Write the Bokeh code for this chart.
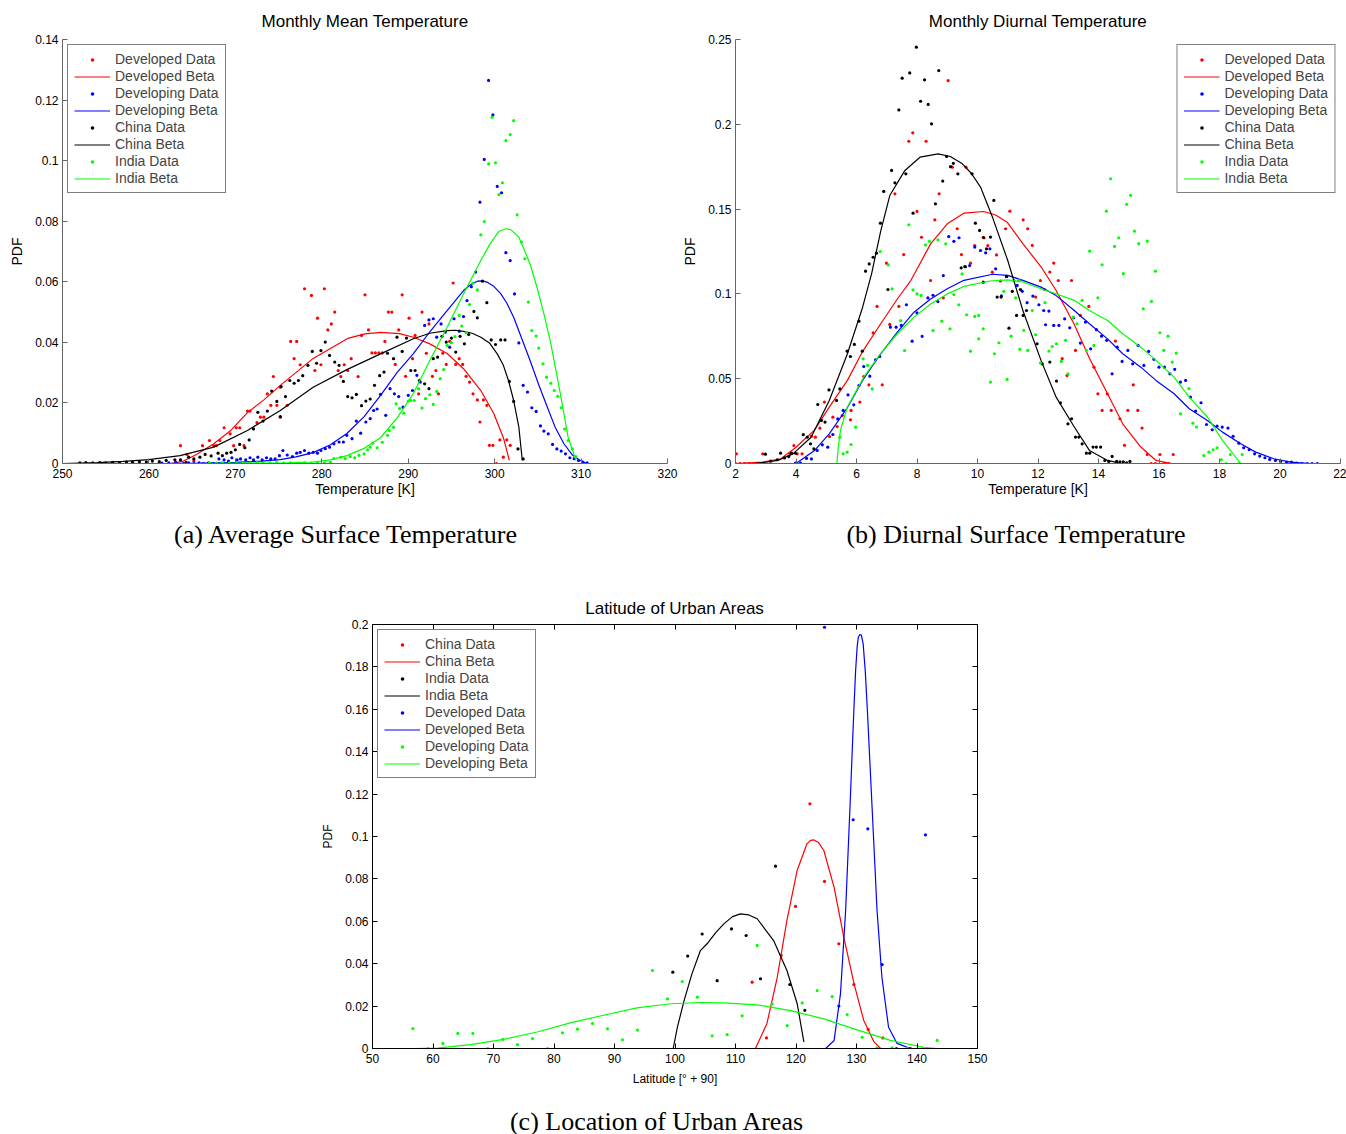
from bokeh.plotting import figure
from bokeh.layouts import column, row
from bokeh.models import Spacer, FixedTicker, LinearAxis, Range1d, CustomLabelingPolicy, Div
from bokeh.embed import file_html
from bokeh.resources import INLINE

FONT = "Liberation Sans"
SERIF = "Liberation Serif"
RED, BLUE, BLACK, GREEN = "#ff0000", "#0000ff", "#000000", "#00ff00"

# ---------------- Panel (a): Monthly Mean Temperature ----------------
a_xticks = [250, 260, 270, 280, 290, 300, 310, 320]
a_yticks = [0, 0.02, 0.04, 0.06, 0.08, 0.1, 0.12, 0.14]
a_ylabels = ["0", "0.02", "0.04", "0.06", "0.08", "0.1", "0.12", "0.14"]

a_dev_x = [263.1, 263.65, 264.4, 265.2, 266.2, 267.0, 267.5, 267.8, 268.2, 268.7, 269.4, 269.8, 270.1, 270.5, 271.0, 271.4, 271.7, 272.5, 272.9, 273.3, 273.7, 274.1, 274.4, 274.8, 275.2, 275.2, 276.0, 276.4, 276.8, 277.1, 277.5, 278.0, 278.8, 279.2, 279.5, 279.9, 280.3, 280.7, 281.1, 281.5, 281.9, 282.2, 282.6, 283.0, 283.4, 284.2, 284.6, 285.0, 285.4, 285.8, 286.2, 286.6, 287.0, 287.3, 287.7, 288.1, 288.5, 288.9, 289.3, 289.7, 290.1, 290.5, 290.8, 291.2, 291.6, 292.1, 292.4, 292.8, 293.2, 293.5, 294.0, 294.4, 294.8, 295.2, 295.5, 295.9, 296.3, 296.7, 297.1, 297.5, 298.0, 298.3, 298.7, 299.1, 299.4, 299.8, 300.2, 300.6, 301.0, 301.4, 301.8]
a_dev_y = [0.0005, 0.0059, 0.003, 0.0008, 0.0059, 0.0076, 0.0059, 0.0059, 0.0076, 0.0118, 0.0098, 0.0059, 0.0118, 0.0118, 0.0059, 0.0173, 0.0173, 0.0135, 0.0153, 0.0153, 0.0230, 0.0192, 0.0287, 0.0192, 0.0153, 0.0252, 0.0192, 0.0403, 0.0346, 0.0403, 0.0326, 0.0577, 0.0555, 0.0307, 0.0480, 0.0326, 0.0577, 0.0441, 0.0461, 0.0500, 0.0307, 0.0287, 0.0326, 0.0307, 0.0346, 0.0287, 0.0423, 0.0557, 0.0441, 0.0365, 0.0365, 0.0365, 0.0365, 0.0403, 0.0500, 0.0500, 0.0327, 0.0441, 0.0557, 0.0288, 0.0480, 0.0346, 0.0423, 0.0230, 0.0500, 0.0364, 0.0461, 0.0288, 0.0307, 0.0230, 0.0364, 0.0327, 0.0403, 0.0596, 0.0327, 0.0346, 0.0327, 0.0288, 0.0269, 0.0230, 0.0210, 0.0137, 0.0210, 0.0192, 0.0060, 0.0060, 0.0, 0.0078, 0.0021, 0.0078, 0.0060]

a_devbeta_x = [262.5, 264, 265.5, 267.5, 269.5, 271.4, 273.3, 275.2, 277, 279, 281, 283, 285, 286.8, 289, 290.6, 292.5, 294.5, 296.4, 298.4, 299.9, 301.0, 301.7]
a_devbeta_y = [0.0, 0.0008, 0.003, 0.0065, 0.011, 0.0168, 0.021, 0.0258, 0.030, 0.0347, 0.038, 0.0413, 0.0428, 0.0433, 0.0429, 0.0417, 0.0395, 0.0363, 0.0313, 0.0241, 0.0165, 0.0086, 0.001]

a_dvg_x = [261.5, 262.3, 263.1, 264.0, 264.6, 265.2, 265.8, 266.3, 266.9, 267.5, 268.1, 268.7, 269.2, 269.6, 270.2, 270.6, 271.2, 271.7, 272.1, 272.6, 273.1, 273.6, 274.1, 274.6, 275.1, 275.5, 276.0, 276.6, 277.1, 277.5, 278.0, 278.5, 279.0, 279.5, 279.9, 280.4, 280.9, 281.4, 282.0, 282.5, 282.9, 283.5, 284.0, 284.5, 285.1, 285.6, 286.0, 286.4, 286.8, 287.4, 287.9, 288.4, 288.9, 289.4, 290.0, 290.5, 291.0, 291.4, 291.9, 292.4, 292.9, 293.3, 293.8, 294.3, 294.8, 295.3, 295.9, 296.4, 296.8, 297.3, 297.8, 298.3, 298.8, 299.3, 299.8, 300.3, 300.8, 301.3, 301.8, 302.3, 302.8, 303.3, 303.8, 304.3, 304.8, 305.3, 305.7, 306.2, 306.7, 307.2, 307.7, 308.2, 308.7, 309.2, 309.7, 310.2, 310.7]
a_dvg_y = [0.0001, 0.0002, 0.0001, 0.0, 0.0002, 0.0, 0.0002, 0.0, 0.0002, 0.0, 0.0015, 0.0012, 0.0008, 0.0019, 0.0012, 0.0015, 0.0012, 0.0019, 0.0012, 0.0021, 0.0012, 0.0019, 0.0015, 0.0015, 0.0026, 0.0043, 0.0028, 0.0023, 0.0034, 0.0037, 0.0043, 0.0034, 0.0037, 0.0034, 0.0043, 0.0049, 0.0054, 0.0065, 0.0071, 0.0071, 0.0093, 0.0082, 0.0140, 0.0100, 0.0137, 0.0148, 0.0175, 0.0180, 0.0228, 0.0159, 0.0247, 0.0230, 0.0221, 0.0186, 0.0225, 0.0241, 0.0291, 0.0269, 0.0456, 0.0474, 0.0478, 0.0417, 0.0461, 0.0434, 0.0384, 0.0478, 0.0437, 0.0485, 0.0538, 0.0584, 0.0632, 0.0863, 0.1004, 0.1265, 0.1151, 0.0915, 0.0894, 0.0696, 0.0670, 0.0560, 0.0398, 0.0258, 0.0236, 0.0184, 0.0172, 0.0124, 0.0107, 0.0098, 0.0063, 0.0048, 0.0041, 0.0032, 0.0019, 0.0016, 0.0010, 0.0005, 0.0002]

a_dvgbeta_x = [261.5, 266, 270, 273, 275.2, 277, 279, 281, 282.9, 284.9, 286.8, 288.7, 290.6, 292.5, 294.5, 296.4, 297.2, 298.0, 298.6, 299.1, 299.9, 300.7, 301.4, 302.2, 303.1, 304.1, 305.1, 306.1, 307.0, 308.0, 309.0, 309.9, 310.7]
a_dvgbeta_y = [0.0, 0.0001, 0.0004, 0.0008, 0.0013, 0.0022, 0.0036, 0.0062, 0.0099, 0.0155, 0.0225, 0.0300, 0.0363, 0.0435, 0.0505, 0.0571, 0.0590, 0.0602, 0.0603, 0.0599, 0.0585, 0.0561, 0.0530, 0.0483, 0.0415, 0.0340, 0.0260, 0.0186, 0.0120, 0.0066, 0.0028, 0.001, 0.0]

a_chn_x = [252.0, 252.7, 253.5, 254.3, 255.0, 255.8, 256.6, 257.4, 258.1, 258.9, 259.7, 260.4, 261.2, 262.0, 263.0, 263.65, 264.3, 264.6, 265.2, 265.9, 266.5, 267.2, 268.0, 268.5, 269.0, 269.5, 270.0, 270.5, 271.1, 271.6, 272.1, 272.6, 273.2, 273.7, 274.2, 274.8, 275.2, 275.3, 275.8, 276.3, 276.8, 277.3, 277.8, 278.4, 278.9, 279.4, 279.9, 280.4, 280.9, 281.5, 282.0, 282.5, 283.0, 283.5, 284.0, 284.6, 285.1, 285.6, 286.1, 286.7, 287.2, 287.6, 288.3, 288.7, 289.3, 289.8, 290.3, 290.8, 291.3, 291.9, 292.4, 292.9, 293.4, 293.9, 294.4, 295.0, 295.5, 296.0, 296.5, 297.0, 297.6, 298.0, 298.6, 299.1, 299.6, 300.1, 300.7, 301.2, 301.7, 302.2, 302.7, 303.3]
a_chn_y = [0.0002, 0.0003, 0.0002, 0.0003, 0.0002, 0.0004, 0.0003, 0.0005, 0.0004, 0.0006, 0.0005, 0.0008, 0.0006, 0.001, 0.0012, 0.0012, 0.0004, 0.0021, 0.0015, 0.0021, 0.003, 0.0025, 0.0034, 0.0026, 0.0034, 0.0037, 0.0045, 0.0063, 0.0052, 0.0078, 0.0114, 0.0169, 0.0140, 0.0173, 0.0239, 0.0205, 0.0155, 0.0254, 0.0221, 0.0274, 0.0265, 0.0274, 0.0290, 0.0324, 0.0370, 0.0331, 0.0373, 0.0401, 0.0357, 0.0335, 0.0324, 0.0271, 0.0221, 0.0217, 0.0228, 0.0191, 0.0206, 0.0213, 0.0258, 0.0290, 0.0302, 0.0364, 0.0346, 0.0417, 0.0370, 0.0414, 0.0307, 0.0307, 0.0274, 0.0263, 0.0247, 0.0346, 0.0351, 0.0420, 0.0401, 0.0414, 0.0368, 0.0420, 0.0395, 0.0426, 0.0502, 0.0481, 0.0602, 0.0531, 0.0408, 0.0393, 0.0408, 0.0408, 0.0271, 0.0205, 0.0048, 0.0015]

a_chnbeta_x = [250, 254, 257, 260, 263.6, 267.5, 271.4, 275.2, 279.0, 282.9, 286.8, 290.6, 292.5, 294.5, 295.5, 296.4, 297.4, 298.4, 299.4, 300.3, 301.0, 301.6, 302.2, 302.8, 303.2]
a_chnbeta_y = [0.0, 0.0003, 0.0007, 0.0013, 0.0026, 0.0054, 0.0109, 0.0175, 0.0252, 0.0310, 0.0362, 0.0412, 0.0430, 0.0439, 0.0440, 0.0436, 0.0430, 0.0417, 0.0398, 0.0362, 0.0325, 0.0274, 0.0208, 0.012, 0.001]

a_ind_x = [267.0, 267.8, 268.5, 269.3, 270.1, 270.9, 271.7, 272.5, 273.2, 274.0, 274.8, 275.6, 276.4, 277.2, 278.0, 278.8, 279.5, 280.3, 281.0, 281.4, 282.2, 282.7, 283.3, 283.8, 284.3, 284.9, 285.3, 285.6, 285.9, 286.4, 287.0, 287.6, 287.8, 288.3, 288.6, 289.0, 289.5, 290.0, 290.3, 290.7, 291.2, 291.6, 292.0, 292.5, 292.9, 293.3, 293.7, 294.1, 294.5, 295.0, 295.4, 295.9, 296.2, 296.7, 297.1, 297.5, 298.0, 298.4, 298.8, 299.3, 299.7, 300.1, 300.5, 300.9, 301.3, 301.8, 302.2, 302.6, 303.1, 303.5, 303.9, 304.3, 304.8, 305.1, 305.6, 306.0, 306.5, 306.9, 307.3, 307.7, 308.1, 308.5, 309.0, 309.4]
a_ind_y = [0.0002, 0.0001, 0.0003, 0.0001, 0.0002, 0.0001, 0.0002, 0.0003, 0.0001, 0.0002, 0.0003, 0.0001, 0.0002, 0.0001, 0.0002, 0.0001, 0.0003, 0.0001, 0.0004, 0.0016, 0.0021, 0.0016, 0.0023, 0.0019, 0.0027, 0.0032, 0.0045, 0.0054, 0.0067, 0.0052, 0.0070, 0.0093, 0.0109, 0.0120, 0.0197, 0.0181, 0.0166, 0.0206, 0.0208, 0.0208, 0.0247, 0.0183, 0.0214, 0.0227, 0.0195, 0.0238, 0.0280, 0.0310, 0.0390, 0.0399, 0.0419, 0.0489, 0.0454, 0.0432, 0.0525, 0.0595, 0.0573, 0.0755, 0.0799, 0.0989, 0.1143, 0.0993, 0.0888, 0.0927, 0.1066, 0.1086, 0.1132, 0.0821, 0.0731, 0.0676, 0.0533, 0.0439, 0.0421, 0.0381, 0.0329, 0.0285, 0.0265, 0.0241, 0.0222, 0.0184, 0.0114, 0.0076, 0.0048, 0.0023]

a_indbeta_x = [266.7, 272, 276, 279, 281, 282.9, 284.9, 286.8, 288.7, 290.6, 292.5, 294.5, 296.4, 298.4, 299.4, 300.5, 301.3, 301.8, 302.2, 302.8, 303.3, 304.1, 304.9, 305.7, 306.5, 307.6, 308.5, 309.4]
a_indbeta_y = [0.0, 0.0001, 0.0002, 0.0005, 0.0012, 0.0026, 0.0050, 0.0085, 0.0150, 0.0231, 0.0340, 0.0450, 0.0560, 0.0670, 0.0722, 0.0767, 0.0775, 0.0773, 0.0764, 0.0747, 0.0714, 0.0659, 0.0582, 0.0494, 0.0396, 0.0231, 0.0087, 0.001]

# ---------------- Panel (b): Monthly Diurnal Temperature ----------------
b_xticks = [2, 4, 6, 8, 10, 12, 14, 16, 18, 20, 22]
b_yticks = [0, 0.05, 0.1, 0.15, 0.2, 0.25]
b_ylabels = ["0", "0.05", "0.1", "0.15", "0.2", "0.25"]

b_dev_x = [2.0, 2.15, 2.3, 2.45, 2.6, 2.75, 2.03, 2.9, 3.8, 3.93, 4.04, 4.2, 4.51, 4.64, 4.79, 4.94, 5.11, 5.22, 5.36, 5.53, 5.8, 5.82, 6.11, 6.24, 6.41, 6.55, 6.68, 6.85, 6.99, 7.1, 7.27, 7.4, 7.56, 7.73, 7.86, 8.0, 8.15, 8.3, 8.45, 8.59, 8.73, 8.87, 9.03, 9.17, 9.33, 9.47, 9.62, 9.77, 9.91, 10.19, 10.34, 10.49, 10.63, 10.76, 10.93, 11.07, 11.2, 11.37, 11.51, 11.66, 11.81, 11.92, 12.08, 12.22, 12.39, 12.52, 12.67, 12.8, 12.96, 13.11, 13.24, 13.4, 13.68, 13.85, 13.98, 14.12, 14.29, 14.42, 14.56, 14.71, 14.86, 14.97, 15.15, 15.3, 15.44, 15.61, 15.74, 15.88, 16.03, 16.16, 16.33, 16.47]
b_dev_y = [0.0, 0.0, 0.0, 0.0, 0.0, 0.0, 0.0057, 0.0057, 0.0057, 0.0106, 0.0057, 0.0057, 0.0161, 0.0155, 0.0208, 0.0362, 0.0159, 0.0273, 0.0218, 0.0283, 0.0258, 0.0313, 0.0362, 0.0513, 0.0464, 0.0770, 0.0926, 0.0464, 0.1181, 0.0820, 0.159, 0.0926, 0.1232, 0.19, 0.195, 0.1486, 0.1334, 0.19, 0.1079, 0.1437, 0.159, 0.0977, 0.2258, 0.1747, 0.1384, 0.1232, 0.1747, 0.1181, 0.1285, 0.1334, 0.1285, 0.1128, 0.123, 0.1076, 0.1384, 0.1488, 0.1079, 0.1079, 0.1437, 0.1384, 0.1286, 0.0981, 0.1079, 0.1026, 0.1129, 0.1182, 0.1079, 0.0618, 0.0519, 0.1079, 0.0667, 0.0873, 0.0926, 0.0568, 0.0411, 0.0313, 0.0411, 0.0313, 0.0722, 0.0264, 0.0107, 0.0313, 0.0464, 0.0313, 0.0209, 0.0053, 0.0, 0.0, 0.0053, 0.0, 0.0, 0.0053]

b_devbeta_x = [2.0, 2.9, 3.5, 4.0, 4.6, 5.1, 5.7, 6.2, 6.8, 7.35, 7.8, 8.45, 9.0, 9.55, 10.2, 10.6, 10.98, 11.5, 12.1, 12.6, 13.2, 13.7, 14.3, 14.8, 15.4, 15.9, 16.4]
b_devbeta_y = [0.0, 0.0008, 0.0028, 0.0096, 0.0195, 0.0332, 0.049, 0.066, 0.0824, 0.097, 0.108, 0.1295, 0.1413, 0.1476, 0.1486, 0.1465, 0.1423, 0.1296, 0.116, 0.102, 0.082, 0.062, 0.0411, 0.0234, 0.0097, 0.0018, 0.0]

b_dvg_x = [3.98, 4.15, 4.35, 4.51, 4.7, 4.87, 5.05, 5.22, 5.38, 5.56, 5.72, 5.91, 6.08, 6.24, 6.44, 6.63, 6.77, 7.12, 7.31, 7.48, 7.65, 7.84, 8.0, 8.17, 8.36, 8.53, 8.69, 8.87, 9.05, 9.22, 9.39, 9.58, 9.74, 9.91, 10.1, 10.27, 10.41, 10.6, 10.79, 10.96, 11.31, 11.48, 11.64, 11.83, 12.03, 12.19, 12.25, 12.36, 12.52, 12.69, 12.88, 13.05, 13.18, 13.4, 13.57, 13.74, 13.93, 14.1, 14.27, 14.45, 14.62, 14.78, 14.97, 15.13, 15.31, 15.5, 15.66, 15.83, 16.0, 16.18, 16.36, 16.52, 16.71, 16.88, 17.04, 17.21, 17.39, 17.57, 17.76, 17.92, 18.09, 18.28, 18.45, 18.64, 18.8, 18.98, 19.16, 19.33, 19.5, 19.66, 19.85, 20.02, 20.22, 20.38, 20.55, 20.73, 20.9, 21.06, 21.23]
b_dvg_y = [0.0002, 0.0002, 0.003, 0.0027, 0.0077, 0.011, 0.0096, 0.0171, 0.0263, 0.0313, 0.0405, 0.0346, 0.046, 0.0572, 0.0515, 0.0611, 0.0631, 0.0804, 0.0804, 0.0814, 0.0936, 0.0721, 0.0888, 0.075, 0.0976, 0.0992, 0.0955, 0.1108, 0.1338, 0.131, 0.1331, 0.1161, 0.1167, 0.1276, 0.1256, 0.1242, 0.1266, 0.1148, 0.0988, 0.1103, 0.105, 0.1015, 0.0948, 0.0987, 0.0936, 0.0902, 0.0818, 0.0899, 0.0814, 0.0814, 0.0853, 0.08, 0.0859, 0.071, 0.0834, 0.0676, 0.0789, 0.0751, 0.0726, 0.0529, 0.0686, 0.0602, 0.0667, 0.0588, 0.0696, 0.0578, 0.0661, 0.0614, 0.0568, 0.0568, 0.0529, 0.0555, 0.048, 0.049, 0.0391, 0.0309, 0.0358, 0.023, 0.0199, 0.0221, 0.0215, 0.0209, 0.016, 0.012, 0.0093, 0.0081, 0.0057, 0.0044, 0.0034, 0.0024, 0.0018, 0.0012, 0.0008, 0.0008, 0.0002, 0.0, 0.0, 0.0, 0.0]

b_dvgbeta_x = [4.0, 4.6, 5.1, 5.7, 6.2, 6.8, 7.35, 7.9, 8.45, 9.0, 9.55, 10.5, 11.0, 11.5, 12.1, 12.6, 13.2, 13.7, 14.3, 14.8, 15.4, 15.9, 16.5, 17.0, 17.6, 18.1, 18.7, 19.2, 19.8, 20.35, 21.0]
b_dvgbeta_y = [0.0, 0.0075, 0.0175, 0.033, 0.049, 0.0647, 0.0774, 0.0892, 0.097, 0.103, 0.108, 0.1116, 0.1109, 0.108, 0.104, 0.099, 0.0902, 0.0824, 0.0735, 0.0647, 0.0568, 0.049, 0.0411, 0.0323, 0.0254, 0.0185, 0.0116, 0.0067, 0.0028, 0.0008, 0.0]

b_chn_x = [2.99, 3.16, 3.38, 3.49, 3.62, 3.76, 3.85, 3.98, 4.24, 4.37, 4.48, 4.59, 4.72, 4.84, 4.96, 5.09, 5.34, 5.45, 5.69, 5.8, 5.93, 6.08, 6.19, 6.3, 6.42, 6.55, 6.66, 6.79, 6.9, 7.04, 7.16, 7.27, 7.4, 7.51, 7.63, 7.76, 7.87, 7.98, 8.12, 8.25, 8.37, 8.48, 8.61, 8.72, 8.85, 8.98, 9.11, 9.2, 9.35, 9.46, 9.6, 9.82, 9.93, 10.07, 10.19, 10.21, 10.3, 10.43, 10.54, 10.65, 10.78, 10.96, 11.04, 11.15, 11.29, 11.42, 11.51, 11.62, 11.97, 12.14, 12.39, 12.61, 12.74, 12.99, 13.11, 13.24, 13.35, 13.46, 13.6, 13.71, 13.82, 13.93, 14.07, 14.21, 14.34, 14.45, 14.6, 14.71, 14.82, 14.93, 15.04]
b_chn_y = [0.0055, 0.0014, 0.0022, 0.0061, 0.0033, 0.0041, 0.0061, 0.0061, 0.017, 0.0155, 0.0116, 0.0086, 0.0348, 0.0254, 0.0244, 0.0434, 0.0372, 0.044, 0.0662, 0.0631, 0.0702, 0.0839, 0.0662, 0.1134, 0.1177, 0.1216, 0.124, 0.1417, 0.1604, 0.1026, 0.1728, 0.1655, 0.2085, 0.2272, 0.1708, 0.2303, 0.1476, 0.2455, 0.2136, 0.2262, 0.2117, 0.2003, 0.1531, 0.2317, 0.1665, 0.181, 0.175, 0.177, 0.1708, 0.1154, 0.116, 0.1708, 0.1417, 0.1374, 0.1069, 0.1331, 0.1266, 0.1335, 0.1551, 0.0981, 0.0981, 0.1103, 0.0798, 0.1015, 0.0873, 0.1026, 0.0873, 0.0902, 0.0706, 0.0588, 0.0598, 0.0486, 0.0358, 0.0234, 0.0264, 0.0156, 0.0156, 0.0116, 0.0061, 0.0061, 0.0097, 0.0097, 0.0097, 0.0018, 0.0012, 0.0042, 0.0012, 0.001, 0.001, 0.0004, 0.0012]

b_chnbeta_x = [2.6, 3.0, 3.4, 3.9, 4.5, 5.1, 5.7, 6.2, 6.5, 6.8, 7.1, 7.6, 8.1, 8.7, 9.1, 9.5, 9.8, 10.1, 10.5, 11.0, 11.5, 12.1, 12.6, 13.2, 13.7, 14.3, 14.7]
b_chnbeta_y = [0.0, 0.0008, 0.0018, 0.0057, 0.0155, 0.0372, 0.0647, 0.092, 0.112, 0.137, 0.158, 0.1728, 0.1806, 0.1826, 0.181, 0.1767, 0.171, 0.163, 0.145, 0.1197, 0.0902, 0.0608, 0.0391, 0.0215, 0.0077, 0.0018, 0.0002]

b_ind_x = [5.45, 5.56, 5.69, 5.82, 5.97, 6.22, 6.37, 6.52, 6.78, 7.05, 7.18, 7.46, 7.59, 7.73, 7.87, 8.0, 8.14, 8.28, 8.41, 8.53, 8.69, 8.82, 8.95, 9.09, 9.22, 9.38, 9.49, 9.64, 9.77, 9.91, 10.04, 10.04, 10.19, 10.43, 10.56, 10.71, 10.87, 10.98, 11.11, 11.26, 11.37, 11.4, 11.53, 11.66, 11.81, 11.92, 12.08, 12.23, 12.36, 12.47, 12.61, 12.77, 12.91, 12.99, 13.16, 13.29, 13.46, 13.6, 13.71, 13.85, 13.98, 14.12, 14.26, 14.4, 14.53, 14.67, 14.82, 14.93, 15.06, 15.19, 15.33, 15.48, 15.61, 15.75, 15.88, 16.03, 16.16, 16.3, 16.44, 16.57, 16.71, 16.99, 17.12, 17.24, 17.48, 17.65, 17.79, 17.92, 18.06, 18.22, 18.36, 18.64, 18.75]
b_ind_y = [0.0155, 0.0057, 0.0067, 0.0112, 0.0214, 0.0617, 0.0578, 0.044, 0.125, 0.1171, 0.103, 0.0843, 0.0666, 0.1407, 0.1024, 0.1, 0.0991, 0.1289, 0.131, 0.0784, 0.1319, 0.0839, 0.1295, 0.0794, 0.0996, 0.0936, 0.1118, 0.0877, 0.0662, 0.0867, 0.0873, 0.0735, 0.0794, 0.048, 0.0647, 0.0712, 0.1015, 0.0496, 0.0751, 0.0977, 0.1079, 0.0673, 0.0785, 0.0667, 0.0902, 0.0759, 0.0592, 0.0948, 0.0663, 0.069, 0.0706, 0.0602, 0.0726, 0.0529, 0.0863, 0.0824, 0.0962, 0.0667, 0.1252, 0.0696, 0.0977, 0.1172, 0.1488, 0.1679, 0.128, 0.1331, 0.1119, 0.1528, 0.1581, 0.137, 0.1296, 0.0912, 0.1311, 0.0956, 0.1134, 0.0771, 0.0667, 0.0751, 0.0598, 0.0651, 0.0293, 0.0441, 0.0238, 0.0215, 0.0047, 0.0067, 0.0081, 0.0093, 0.0022, 0.0, 0.0053, 0.0, 0.0053]

b_indbeta_x = [5.35, 5.4, 5.47, 5.69, 6.24, 6.79, 7.35, 7.9, 8.45, 9.0, 9.55, 10.4, 11.0, 11.5, 12.1, 12.6, 13.2, 13.7, 14.3, 14.8, 15.4, 15.9, 16.5, 17.0, 17.6, 18.1, 18.7]
b_indbeta_y = [0.0, 0.01, 0.0195, 0.033, 0.0509, 0.0647, 0.0765, 0.0863, 0.0941, 0.1, 0.1044, 0.1076, 0.1083, 0.107, 0.103, 0.1001, 0.0962, 0.0902, 0.0843, 0.0765, 0.0686, 0.0608, 0.0509, 0.0391, 0.0274, 0.0136, 0.0]

# ---------------- Panel (c): Latitude of Urban Areas ----------------
c_xticks = [50, 60, 70, 80, 90, 100, 110, 120, 130, 140, 150]
c_yticks = [0, 0.02, 0.04, 0.06, 0.08, 0.1, 0.12, 0.14, 0.16, 0.18, 0.2]
c_ylabels = ["0", "0.02", "0.04", "0.06", "0.08", "0.1", "0.12", "0.14", "0.16", "0.18", "0.2"]

c_chn_x = [112.75, 115.12, 117.55, 119.92, 122.3, 124.71, 127.08, 129.56, 131.93, 133.4, 134.35]
c_chn_y = [0.0313, 0.005, 0.0439, 0.0670, 0.1154, 0.0788, 0.0494, 0.0302, 0.009, 0.0, 0.005]
c_chnbeta_x = [113.3, 115.2, 116.9, 118.5, 120.2, 121.8, 122.4, 123.0, 123.7, 124.6, 126.3, 127.9, 129.6, 131.2, 132.9, 134.0]
c_chnbeta_y = [0.0, 0.0118, 0.0336, 0.0604, 0.0841, 0.0965, 0.0982, 0.0984, 0.0972, 0.0934, 0.076, 0.0525, 0.0305, 0.0132, 0.0031, 0.0]

c_ind_x = [99.64, 102.1, 104.49, 106.97, 109.34, 111.76, 114.13, 116.61, 118.98, 121.46]
c_ind_y = [0.036, 0.0436, 0.054, 0.032, 0.0564, 0.0533, 0.0329, 0.086, 0.0302, 0.018]
c_indbeta_x = [99.7, 100.4, 101.5, 102.8, 104.2, 105.3, 106.7, 108.07, 109.5, 110.8, 112.2, 113.58, 116.3, 118.5, 120.2, 121.3]
c_indbeta_y = [0.0, 0.0101, 0.0226, 0.0352, 0.0462, 0.0494, 0.0545, 0.0588, 0.0622, 0.0635, 0.063, 0.0612, 0.0509, 0.0368, 0.0211, 0.0031]

c_dev_x = [124.71, 127.08, 129.45, 131.87, 134.24, 136.6, 138.9, 141.4]
c_dev_y = [0.1987, 0.0200, 0.1079, 0.1036, 0.0396, 0.0, 0.0, 0.1008]
c_devbeta_x = [124.9, 126.3, 127.35, 128.2, 128.9, 129.56, 129.85, 130.1, 130.3, 130.55, 130.8, 131.1, 131.45, 131.8, 132.6, 133.4, 134.2, 135.3, 136.7, 138.9]
c_devbeta_y = [0.0, 0.0038, 0.0258, 0.065, 0.1123, 0.1594, 0.178, 0.1893, 0.194, 0.1953, 0.195, 0.1909, 0.178, 0.1594, 0.1123, 0.065, 0.0336, 0.01, 0.0024, 0.0]

c_dvg_x = [56.67, 59.15, 61.63, 64.1, 66.58, 69.06, 71.54, 73.97, 76.45, 78.93, 81.4, 83.88, 86.36, 88.84, 91.32, 93.8, 96.28, 98.76, 101.2, 103.7, 106.14, 108.62, 111.1, 113.58, 116.06, 118.54, 121.02, 123.5, 125.98, 128.46, 130.93, 133.41, 135.89, 138.37, 140.85, 143.33]
c_dvg_y = [0.0094, 0.0, 0.0024, 0.0071, 0.0071, 0.0, 0.0043, 0.0018, 0.0047, 0.0, 0.0074, 0.0091, 0.0118, 0.0093, 0.0041, 0.0087, 0.0368, 0.0234, 0.0316, 0.0242, 0.0060, 0.0065, 0.0154, 0.0486, 0.021, 0.0108, 0.0215, 0.0273, 0.0245, 0.016, 0.0053, 0.0003, 0.0003, 0.0, 0.0, 0.0038]
c_dvgbeta_x = [56.67, 60.7, 66.2, 71.7, 77.2, 82.7, 88.2, 93.7, 99.3, 104.2, 108.07, 113.58, 119.09, 124.6, 130.1, 135.6, 141.1, 143.3]
c_dvgbeta_y = [0.0, 0.0002, 0.0018, 0.0043, 0.0078, 0.0121, 0.0157, 0.0192, 0.0211, 0.0217, 0.0215, 0.0206, 0.0179, 0.014, 0.0088, 0.0038, 0.0006, 0.0]


FRAME_W, FRAME_H = 605, 424
NO_LABELS = CustomLabelingPolicy(code="return new Set()")


def make_panel(title, xr, yr, xticks, yticks, ylabels, xlabel,
               bl, br, bt, bb, boxed, lab_size, title_standoff, xlab_standoff):
    p = figure(frame_width=FRAME_W, frame_height=FRAME_H,
               x_range=Range1d(*xr), y_range=Range1d(*yr),
               output_backend="svg", toolbar_location=None,
               min_border_left=bl, min_border_right=br, min_border_top=bt, min_border_bottom=bb)
    p.title.text = title
    p.title.align = "center"
    p.title.text_font = FONT
    p.title.text_font_size = "17px"
    p.title.text_font_style = "normal"
    p.title.text_color = "black"
    p.title.standoff = title_standoff
    p.xgrid.visible = False
    p.ygrid.visible = False
    axcol = "black" if boxed else "#666666"
    p.outline_line_color = "black" if boxed else None
    p.xaxis.ticker = FixedTicker(ticks=xticks)
    p.yaxis.ticker = FixedTicker(ticks=yticks)
    p.yaxis.major_label_overrides = {v: s for v, s in zip(yticks, ylabels)}
    for ax in (p.xaxis[0], p.yaxis[0]):
        ax.axis_line_color = axcol
        ax.major_tick_line_color = axcol
        ax.major_tick_in = 5
        ax.major_tick_out = 0
        ax.minor_tick_line_color = None
        ax.major_label_text_font = FONT
        ax.major_label_text_font_size = "12px"
        ax.major_label_text_color = "black"
        ax.axis_label_text_font = FONT
        ax.axis_label_text_font_size = lab_size
        ax.axis_label_text_font_style = "normal"
        ax.axis_label_text_color = "black"
    p.xaxis.major_label_standoff = 5
    p.yaxis.major_label_standoff = 4
    p.xaxis.axis_label = xlabel
    p.xaxis.axis_label_standoff = xlab_standoff
    p.yaxis.axis_label = "PDF"
    p.yaxis.axis_label_standoff = 7
    if boxed:
        top = LinearAxis(ticker=FixedTicker(ticks=xticks), major_label_policy=NO_LABELS,
                         major_label_text_font_size="1px",
                         major_label_standoff=0, major_tick_in=5, major_tick_out=0,
                         minor_tick_line_color=None, axis_line_color="black")
        right = LinearAxis(ticker=FixedTicker(ticks=yticks), major_label_policy=NO_LABELS,
                           major_label_text_font_size="1px",
                           major_label_standoff=0, major_tick_in=5, major_tick_out=0,
                           minor_tick_line_color=None, axis_line_color="black")
        p.add_layout(top, "above")
        p.add_layout(right, "right")
    return p


def caption_div(text, width, height, center_x, top):
    # caption text centred at center_x (px from the div's left edge), text box starting at top
    box_w = 440
    html = ('<div style="font-family:\'Liberation Serif\',serif;font-size:26px;line-height:26px;'
            'color:#000;white-space:nowrap;text-align:center;'
            f'width:{box_w}px;margin-left:{center_x - box_w / 2:.1f}px;margin-top:{top}px">{text}</div>')
    return Div(text=html, width=width, height=height, margin=(0, 0, 0, 0))


def add_series(p, series):
    for kind, x, y, color, label in series:
        if kind == "dot":
            p.scatter(x, y, size=3.2, color=color, line_color=None, legend_label=label)
        else:
            p.line(x, y, line_color=color, line_width=1.2, legend_label=label)


def style_legend(p, loc):
    lg = p.legend[0]
    lg.location = loc
    lg.border_line_color = "black"
    lg.border_line_width = 1
    lg.background_fill_color = "white"
    lg.background_fill_alpha = 1
    lg.label_text_font = FONT
    lg.label_text_font_size = "14px"
    lg.glyph_width = 36
    lg.glyph_height = 9
    lg.label_height = 15
    lg.spacing = 1
    lg.padding = 6
    lg.margin = 5
    lg.label_standoff = 5


pa = make_panel("Monthly Mean Temperature", (250, 320), (0, 0.14),
                a_xticks, a_yticks, a_ylabels, "Temperature [K]",
                62, 11, 39, 50, False, "14px", 17, 0)
add_series(pa, [
    ("dot", a_dev_x, a_dev_y, RED, "Developed Data"),
    ("line", a_devbeta_x, a_devbeta_y, RED, "Developed Beta"),
    ("dot", a_dvg_x, a_dvg_y, BLUE, "Developing Data"),
    ("line", a_dvgbeta_x, a_dvgbeta_y, BLUE, "Developing Beta"),
    ("dot", a_chn_x, a_chn_y, BLACK, "China Data"),
    ("line", a_chnbeta_x, a_chnbeta_y, BLACK, "China Beta"),
    ("dot", a_ind_x, a_ind_y, GREEN, "India Data"),
    ("line", a_indbeta_x, a_indbeta_y, GREEN, "India Beta"),
])
style_legend(pa, "top_left")

pb = make_panel("Monthly Diurnal Temperature", (2, 22), (0, 0.25),
                b_xticks, b_yticks, b_ylabels, "Temperature [K]",
                57, 6, 39, 50, False, "14px", 17, 0)
add_series(pb, [
    ("dot", b_dev_x, b_dev_y, RED, "Developed Data"),
    ("line", b_devbeta_x, b_devbeta_y, RED, "Developed Beta"),
    ("dot", b_dvg_x, b_dvg_y, BLUE, "Developing Data"),
    ("line", b_dvgbeta_x, b_dvgbeta_y, BLUE, "Developing Beta"),
    ("dot", b_chn_x, b_chn_y, BLACK, "China Data"),
    ("line", b_chnbeta_x, b_chnbeta_y, BLACK, "China Beta"),
    ("dot", b_ind_x, b_ind_y, GREEN, "India Data"),
    ("line", b_indbeta_x, b_indbeta_y, GREEN, "India Beta"),
])
style_legend(pb, "top_right")

pc = make_panel("Latitude of Urban Areas", (50, 150), (0, 0.2),
                c_xticks, c_yticks, c_ylabels, "Latitude [° + 90]",
                56, 20, 34, 42, True, "12px", 6, 6)
add_series(pc, [
    ("dot", c_chn_x, c_chn_y, RED, "China Data"),
    ("line", c_chnbeta_x, c_chnbeta_y, RED, "China Beta"),
    ("dot", c_ind_x, c_ind_y, BLACK, "India Data"),
    ("line", c_indbeta_x, c_indbeta_y, BLACK, "India Beta"),
    ("dot", c_dev_x, c_dev_y, BLUE, "Developed Data"),
    ("line", c_devbeta_x, c_devbeta_y, BLUE, "Developed Beta"),
    ("dot", c_dvg_x, c_dvg_y, GREEN, "Developing Data"),
    ("line", c_dvgbeta_x, c_dvgbeta_y, GREEN, "Developing Beta"),
])
style_legend(pc, "top_left")

# figure heights: a/b = 39 + 424 + 50 = 513, caption band to y = 590; c = 34 + 424 + 42 = 500 from y = 590
cap_a = caption_div("(a) Average Surface Temperature", 678, 77, 345.5, 9)
cap_b = caption_div("(b) Diurnal Surface Temperature", 668, 77, 1016 - 678, 9)
cap_c = caption_div("(c) Location of Urban Areas", 681, 44, 656.5 - 316, 19)

layout = column(
    row(column(pa, cap_a), column(pb, cap_b)),
    row(Spacer(width=316, height=10), column(pc, cap_c)),
)
open("out.html", "w").write(file_html(layout, INLINE))
